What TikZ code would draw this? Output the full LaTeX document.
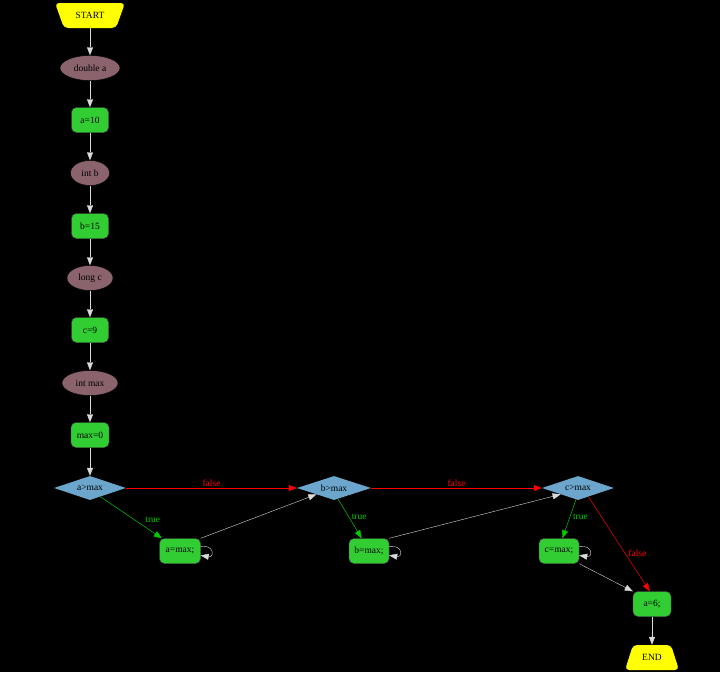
\documentclass[tikz,border=0pt]{standalone}
\usepackage{fontspec}
\setmainfont{Liberation Serif}
\usetikzlibrary{shapes.geometric,arrows.meta}
\definecolor{declfill}{HTML}{8B636C}
\definecolor{stmtfill}{HTML}{32CD32}
\definecolor{condfill}{HTML}{6CA6CD}
\definecolor{termfill}{HTML}{FFFF00}
\definecolor{truecol}{HTML}{00CC00}
\definecolor{falsecol}{HTML}{FF0000}
\tikzset{
  base/.style={font=\fontsize{9.5}{11}\selectfont, inner sep=1pt},
  decl/.style={base, ellipse, fill=declfill, draw=black, minimum height=25pt},
  stmt/.style={base, rectangle, rounded corners=5pt, fill=stmtfill, draw=black!70, minimum height=25pt},
  cond/.style={base, diamond, aspect=3, fill=condfill, minimum height=24pt, inner sep=0pt},
  term/.style={base, rectangle, minimum height=25pt},
  termshape/.style={fill=termfill, rounded corners=4pt},
  tip/.style={-{Triangle[length=8pt,width=6pt]}},
  flow/.style={tip, draw=white!85!black, thin},
  yes/.style={tip, draw=truecol, fill=truecol},
  no/.style={tip, draw=falsecol, fill=falsecol},
  yeslbl/.style={base, text=truecol},
  nolbl/.style={base, text=falsecol}
}
\begin{document}
\begin{tikzpicture}[x=1pt,y=-1pt]
\fill[black] (0,0) rectangle (720,672);
\useasboundingbox (0,0) rectangle (720,672);

% terminal outlines: START wide at the top, END wide at the bottom
\fill[termshape] (55,3) -- (125,3) -- (116,28) -- (64,28) -- cycle;
\fill[termshape] (633,645) -- (671,645) -- (679,670) -- (625,670) -- cycle;

% main chain of declarations and assignments
\node[term, minimum width=60pt] (start) at (90,15.5) {START};
\node[decl, minimum width=60pt] (da) at (90,68) {double a};
\node[stmt, minimum width=37pt] (a10) at (90,120) {a=10};
\node[decl, minimum width=39pt] (ib) at (90,173) {int b};
\node[stmt, minimum width=37pt] (b15) at (90,226) {b=15};
\node[decl, minimum width=46pt] (lc) at (90,278) {long c};
\node[stmt, minimum width=37pt] (c9) at (90,330) {c=9};
\node[decl, minimum width=56pt] (imax) at (90,383) {int max};
\node[stmt, minimum width=38pt] (max0) at (90,435) {max=0};

% comparisons
\node[cond, minimum width=72pt] (ca) at (90,488) {a>max};
\node[cond, minimum width=74pt] (cb) at (334,488) {b>max};
\node[cond, minimum width=72pt] (cc) at (578,488) {c>max};

% assignments of max
\node[stmt, minimum width=41pt] (am) at (180,551) {a=max;};
\node[stmt, minimum width=40pt] (bm) at (369,551) {b=max;};
\node[stmt, minimum width=40pt] (cm) at (559,551) {c=max;};

\node[stmt, minimum width=38pt] (a6) at (652,604) {a=6;};
\node[term, minimum width=45pt] (end) at (652,657.5) {END};

% straight flow
\draw[flow] (start) -- (da);
\draw[flow] (da) -- (a10);
\draw[flow] (a10) -- (ib);
\draw[flow] (ib) -- (b15);
\draw[flow] (b15) -- (lc);
\draw[flow] (lc) -- (c9);
\draw[flow] (c9) -- (imax);
\draw[flow] (imax) -- (max0);
\draw[flow] (max0) -- (ca);

% false branches
\draw[no] (ca) -- node[nolbl, above, pos=0.5] {false} (cb);
\draw[no] (cb) -- node[nolbl, above, pos=0.5] {false} (cc);
\draw[no] (cc.-40) -- node[nolbl, right, pos=0.6, xshift=2pt] {false} (a6.100);

% true branches
\draw[yes] (ca.-40) -- node[yeslbl, right, pos=0.55, xshift=10pt] {true} (am.145);
\draw[yes] (cb.-70) -- node[yeslbl, right, pos=0.45, xshift=2pt] {true} (bm.120);
\draw[yes] (cc.-100) -- node[yeslbl, right, pos=0.45, xshift=2pt] {true} (cm.75);

% back into the chain
\draw[flow] (am.north east) -- (cb.-160);
\draw[flow] (bm.north east) -- (cc.-160);
\draw[flow] (cm.south east) -- (a6.north west);
\draw[flow] (a6) -- (end);

% self loops
\draw[flow] (am.12) to[out=10,in=-10,distance=14pt] (am.-12);
\draw[flow] (bm.12) to[out=10,in=-10,distance=14pt] (bm.-12);
\draw[flow] (cm.12) to[out=10,in=-10,distance=14pt] (cm.-12);
\end{tikzpicture}
\end{document}
